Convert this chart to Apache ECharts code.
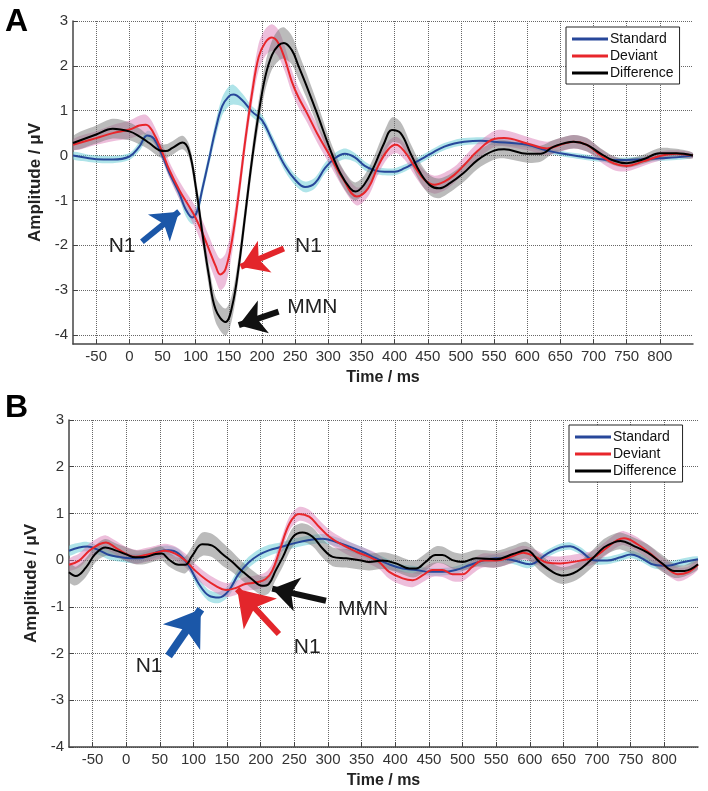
<!DOCTYPE html>
<html>
<head>
<meta charset="utf-8">
<script src="https://cdn.jsdelivr.net/npm/echarts@6.0.0/dist/echarts.min.js"></script>
<style>
    html, body { margin: 0; padding: 0; background: #fff; }
    #main { width: 708px; height: 791px; }
</style>
</head>
<body>
<div id="main"></div>
<script>
// [time ms, mean uV, half width of shaded band]
var stdA = [[-85, 0.0, 0.08], [-65, -0.05, 0.08], [-50, -0.08, 0.08], [-25, -0.09, 0.08], [0, -0.02, 0.08], [15, 0.2, 0.1], [27, 0.45, 0.1], [37, 0.38, 0.1], [50, -0.01, 0.1], [60, -0.38, 0.1], [75, -0.83, 0.12], [85, -1.2, 0.15], [95, -1.38, 0.15], [102, -1.25, 0.15], [110, -0.75, 0.15], [120, -0.09, 0.15], [130, 0.58, 0.18], [140, 1.1, 0.2], [150, 1.32, 0.22], [157, 1.36, 0.22], [170, 1.24, 0.15], [185, 0.98, 0.12], [200, 0.79, 0.12], [215, 0.35, 0.12], [235, -0.24, 0.12], [250, -0.54, 0.12], [265, -0.7, 0.12], [280, -0.61, 0.12], [295, -0.28, 0.12], [310, -0.06, 0.12], [325, 0.04, 0.12], [340, -0.04, 0.1], [355, -0.23, 0.1], [370, -0.33, 0.08], [385, -0.36, 0.08], [400, -0.36, 0.08], [415, -0.28, 0.08], [430, -0.16, 0.08], [445, -0.04, 0.08], [460, 0.09, 0.08], [475, 0.2, 0.08], [490, 0.27, 0.08], [505, 0.31, 0.08], [530, 0.33, 0.08], [550, 0.31, 0.08], [600, 0.24, 0.06], [630, 0.11, 0.06], [650, 0.05, 0.06], [675, -0.01, 0.06], [700, -0.06, 0.06], [725, -0.1, 0.06], [750, -0.1, 0.06], [775, -0.08, 0.06], [800, -0.06, 0.06], [825, -0.04, 0.06], [850, 0.0, 0.05]];
var devA = [[-85, 0.24, 0.12], [-50, 0.39, 0.15], [-25, 0.5, 0.18], [0, 0.58, 0.2], [15, 0.67, 0.22], [25, 0.69, 0.22], [35, 0.54, 0.2], [50, 0.06, 0.18], [60, -0.31, 0.18], [75, -0.76, 0.2], [90, -1.13, 0.22], [100, -1.39, 0.25], [110, -1.72, 0.28], [120, -2.09, 0.3], [130, -2.46, 0.32], [137, -2.65, 0.35], [145, -2.53, 0.35], [155, -1.87, 0.3], [165, -0.83, 0.25], [175, 0.36, 0.25], [185, 1.39, 0.25], [195, 2.2, 0.3], [205, 2.52, 0.3], [215, 2.63, 0.3], [225, 2.5, 0.3], [235, 2.13, 0.28], [245, 1.65, 0.25], [255, 1.3, 0.22], [268, 0.94, 0.2], [283, 0.5, 0.2], [303, -0.02, 0.2], [323, -0.54, 0.2], [343, -0.91, 0.2], [360, -0.73, 0.18], [375, -0.24, 0.18], [390, 0.13, 0.18], [402, 0.24, 0.18], [415, 0.09, 0.18], [430, -0.24, 0.2], [445, -0.54, 0.2], [460, -0.65, 0.2], [475, -0.58, 0.2], [490, -0.43, 0.18], [505, -0.21, 0.18], [525, 0.1, 0.18], [550, 0.37, 0.18], [565, 0.39, 0.18], [600, 0.27, 0.15], [630, 0.16, 0.15], [650, 0.24, 0.15], [670, 0.31, 0.15], [690, 0.24, 0.15], [710, 0.01, 0.15], [730, -0.17, 0.15], [750, -0.23, 0.12], [775, -0.13, 0.1], [800, -0.01, 0.1], [825, 0.04, 0.08], [850, 0.0, 0.06]];
var difA = [[-85, 0.28, 0.15], [-50, 0.47, 0.2], [-25, 0.6, 0.22], [0, 0.54, 0.2], [15, 0.43, 0.18], [30, 0.28, 0.15], [45, 0.12, 0.15], [55, 0.1, 0.15], [65, 0.17, 0.15], [80, 0.29, 0.15], [90, 0.1, 0.15], [100, -0.68, 0.2], [110, -1.72, 0.22], [120, -2.68, 0.25], [130, -3.43, 0.28], [145, -3.71, 0.3], [155, -3.36, 0.28], [165, -2.47, 0.25], [175, -1.28, 0.25], [185, -0.09, 0.25], [195, 0.94, 0.28], [205, 1.76, 0.3], [215, 2.24, 0.32], [225, 2.46, 0.35], [233, 2.51, 0.35], [245, 2.35, 0.32], [255, 2.0, 0.3], [266, 1.6, 0.28], [283, 0.94, 0.25], [303, 0.13, 0.2], [318, -0.39, 0.2], [333, -0.73, 0.2], [341, -0.8, 0.2], [354, -0.65, 0.2], [369, -0.24, 0.22], [384, 0.27, 0.25], [396, 0.57, 0.28], [409, 0.5, 0.25], [424, 0.05, 0.22], [439, -0.39, 0.22], [454, -0.67, 0.22], [467, -0.73, 0.22], [484, -0.61, 0.2], [504, -0.39, 0.2], [525, -0.1, 0.2], [550, 0.11, 0.2], [565, 0.14, 0.2], [600, 0.04, 0.2], [620, 0.04, 0.18], [640, 0.2, 0.15], [670, 0.31, 0.15], [690, 0.24, 0.15], [710, 0.05, 0.12], [730, -0.11, 0.1], [750, -0.17, 0.1], [775, -0.08, 0.1], [800, 0.05, 0.12], [825, 0.05, 0.1], [850, 0.0, 0.06]];

var stdB = [[-85, 0.2, 0.1], [-70, 0.27, 0.1], [-58, 0.29, 0.1], [-40, 0.21, 0.1], [-25, 0.11, 0.1], [-10, 0.07, 0.1], [5, 0.04, 0.1], [20, 0.04, 0.1], [35, 0.11, 0.1], [50, 0.19, 0.1], [63, 0.21, 0.1], [78, 0.14, 0.1], [93, -0.12, 0.1], [108, -0.51, 0.12], [123, -0.76, 0.12], [138, -0.8, 0.12], [152, -0.66, 0.12], [167, -0.3, 0.12], [182, -0.05, 0.12], [197, 0.11, 0.12], [212, 0.21, 0.12], [230, 0.28, 0.1], [252, 0.37, 0.1], [272, 0.43, 0.1], [292, 0.46, 0.1], [312, 0.39, 0.1], [332, 0.29, 0.1], [351, 0.18, 0.1], [371, 0.04, 0.1], [391, -0.09, 0.1], [411, -0.18, 0.08], [431, -0.21, 0.08], [450, -0.25, 0.08], [470, -0.25, 0.08], [490, -0.21, 0.08], [510, -0.11, 0.08], [530, -0.01, 0.08], [550, 0.04, 0.08], [575, 0.0, 0.08], [600, -0.09, 0.08], [625, 0.13, 0.08], [645, 0.27, 0.08], [660, 0.3, 0.08], [675, 0.2, 0.08], [695, 0.0, 0.08], [715, -0.01, 0.08], [735, 0.06, 0.08], [750, 0.12, 0.08], [765, 0.05, 0.08], [785, -0.1, 0.08], [805, -0.12, 0.08], [825, -0.05, 0.08], [850, 0.02, 0.06]];
var devB = [[-85, -0.1, 0.12], [-70, -0.01, 0.15], [-55, 0.2, 0.15], [-40, 0.34, 0.15], [-30, 0.38, 0.15], [-16, 0.27, 0.15], [-1, 0.14, 0.15], [14, 0.07, 0.15], [29, 0.11, 0.15], [44, 0.16, 0.15], [58, 0.2, 0.15], [73, 0.14, 0.15], [88, -0.01, 0.15], [103, -0.23, 0.15], [118, -0.41, 0.15], [133, -0.55, 0.15], [148, -0.64, 0.15], [162, -0.6, 0.15], [177, -0.51, 0.15], [192, -0.48, 0.15], [207, -0.41, 0.15], [217, -0.23, 0.15], [228, 0.2, 0.15], [243, 0.79, 0.15], [257, 0.99, 0.15], [272, 0.93, 0.15], [287, 0.71, 0.15], [302, 0.5, 0.15], [322, 0.32, 0.15], [342, 0.18, 0.15], [361, 0.07, 0.15], [376, -0.04, 0.15], [391, -0.25, 0.15], [411, -0.39, 0.15], [426, -0.43, 0.15], [441, -0.32, 0.15], [455, -0.21, 0.15], [470, -0.21, 0.15], [485, -0.3, 0.15], [500, -0.3, 0.15], [515, -0.14, 0.15], [530, -0.01, 0.15], [550, -0.01, 0.15], [575, 0.09, 0.15], [590, 0.16, 0.15], [610, 0.06, 0.15], [625, -0.05, 0.15], [645, -0.07, 0.15], [675, -0.01, 0.15], [695, 0.06, 0.15], [715, 0.27, 0.15], [730, 0.43, 0.15], [740, 0.47, 0.15], [760, 0.34, 0.15], [780, 0.13, 0.15], [800, -0.12, 0.15], [820, -0.3, 0.15], [835, -0.26, 0.12], [850, -0.1, 0.1]];
var difB = [[-85, -0.26, 0.2], [-75, -0.34, 0.2], [-60, -0.16, 0.2], [-46, 0.13, 0.18], [-31, 0.27, 0.18], [-16, 0.21, 0.15], [-1, 0.13, 0.15], [14, 0.06, 0.15], [29, 0.07, 0.15], [44, 0.13, 0.15], [53, 0.14, 0.15], [63, 0.02, 0.15], [78, -0.1, 0.15], [88, -0.1, 0.18], [98, 0.09, 0.2], [113, 0.34, 0.25], [128, 0.31, 0.25], [143, 0.13, 0.25], [157, -0.03, 0.22], [172, -0.23, 0.2], [187, -0.41, 0.2], [202, -0.55, 0.2], [212, -0.51, 0.2], [222, -0.23, 0.2], [233, 0.07, 0.2], [248, 0.5, 0.2], [262, 0.59, 0.2], [277, 0.5, 0.2], [292, 0.25, 0.2], [307, 0.07, 0.2], [327, 0.04, 0.2], [347, 0.0, 0.2], [361, -0.04, 0.18], [381, -0.01, 0.18], [401, -0.07, 0.18], [421, -0.18, 0.18], [431, -0.18, 0.18], [445, -0.04, 0.18], [460, 0.11, 0.18], [470, 0.11, 0.18], [485, 0.0, 0.18], [500, -0.04, 0.18], [520, 0.04, 0.18], [550, 0.02, 0.18], [575, 0.13, 0.18], [595, 0.21, 0.18], [615, -0.05, 0.18], [635, -0.26, 0.18], [650, -0.33, 0.18], [670, -0.24, 0.18], [690, -0.01, 0.18], [710, 0.27, 0.18], [725, 0.38, 0.18], [735, 0.41, 0.18], [755, 0.3, 0.18], [775, 0.16, 0.18], [795, -0.05, 0.18], [815, -0.23, 0.15], [830, -0.23, 0.12], [850, -0.09, 0.1]];

var xTicks = [-50, 0, 50, 100, 150, 200, 250, 300, 350, 400, 450, 500, 550, 600, 650, 700, 750, 800];
var yTicks = [-4, -3, -2, -1, 0, 1, 2, 3];
var names = ['Standard', 'Deviant', 'Difference'];

// arrows: [tail time, tail uV, head time, head uV]
var arrowsA = { Standard: [19, -1.92, 75, -1.25], Deviant: [233, -2.07, 168, -2.48], Difference: [225, -3.48, 165, -3.78] };
var arrowsB = { Standard: [63, -2.05, 111, -1.05], Deviant: [227, -1.58, 165, -0.62], Difference: [297, -0.87, 217, -0.61] };
// labels: [time, uV, text]
var labelsA = [[-11, -2.03, 'N1'], [270, -2.03, 'N1'], [276, -3.37, 'MMN']];
var labelsB = [[34, -2.26, 'N1'], [269, -1.87, 'N1'], [352, -1.05, 'MMN']];

var lineColors = { Standard: '#27479a', Deviant: '#e8262b', Difference: '#000000' };
var bandColors = { Standard: 'rgba(110, 205, 215, 0.55)', Deviant: 'rgba(214, 110, 175, 0.45)', Difference: 'rgba(120, 120, 120, 0.5)' };
var arrowColors = { Standard: '#1b57a8', Deviant: '#e3262b', Difference: '#111111' };
var font = 'Liberation Sans, Arial, sans-serif';

function bandSeries(name, pts, gi) {
    return {
        type: 'custom',
        name: name + ' band',
        xAxisIndex: gi,
        yAxisIndex: gi,
        silent: true,
        clip: true,
        z: 1,
        data: [[pts[0][0], pts[0][1]]],
        renderItem: function (params, api) {
            var up = pts.map(function (p) { return api.coord([p[0], p[1] + p[2]]); });
            var lo = pts.map(function (p) { return api.coord([p[0], p[1] - p[2]]); }).reverse();
            return {
                type: 'polygon',
                shape: { points: up.concat(lo), smooth: 0.3 },
                style: { fill: bandColors[name] }
            };
        }
    };
}

function lineSeries(name, pts, gi, arrows, labels, big) {
    var a = arrows[name];
    var s = {
        type: 'line',
        name: name,
        xAxisIndex: gi,
        yAxisIndex: gi,
        data: pts.map(function (p) { return [p[0], p[1]]; }),
        smooth: 0.4,
        showSymbol: false,
        color: lineColors[name],
        lineStyle: { width: 2, color: lineColors[name] },
        z: name === 'Difference' ? 4 : 3,
        markLine: {
            silent: true,
            symbol: ['none', 'arrow'],
            symbolSize: big && name !== 'Difference' ? 34 : 26,
            label: { show: false },
            lineStyle: { type: 'solid', width: big && name === 'Standard' ? 8 : 6, color: arrowColors[name] },
            data: [[{ coord: [a[0], a[1]] }, { coord: [a[2], a[3]] }]]
        }
    };
    if (name === 'Difference') {
        s.markPoint = {
            silent: true,
            symbol: 'rect',
            symbolSize: 0,
            label: { show: true, position: 'inside', color: '#222', fontSize: 21, fontFamily: font },
            data: labels.map(function (l) { return { coord: [l[0], l[1]], value: l[2], label: { formatter: l[2] } }; })
        };
    }
    return s;
}

function xAxisFor(gi) {
    return {
        type: 'value',
        gridIndex: gi,
        min: -85,
        max: 850,
        name: 'Time / ms',
        nameLocation: 'middle',
        nameGap: 26,
        nameTextStyle: { fontFamily: font, fontSize: 16, fontWeight: 'bold', color: '#222' },
        axisLine: { onZero: false, lineStyle: { color: '#444', width: 1.5 } },
        axisTick: { inside: true, length: 5, customValues: xTicks, lineStyle: { color: '#444' } },
        axisLabel: { customValues: xTicks, margin: 5, fontFamily: font, fontSize: 15, color: '#333' },
        splitLine: { show: true, lineStyle: { type: 'dotted', color: '#666', width: 1 } }
    };
}

function yAxisFor(gi, min, gap) {
    return {
        type: 'value',
        gridIndex: gi,
        min: min,
        max: 3,
        name: 'Amplitude / \u03bcV',
        nameLocation: 'middle',
        nameGap: gap,
        nameTextStyle: { fontFamily: font, fontSize: 17, fontWeight: 'bold', color: '#222' },
        axisLine: { show: true, onZero: false, lineStyle: { color: '#444', width: 1.5 } },
        axisTick: { show: true, inside: true, length: 5, customValues: yTicks, lineStyle: { color: '#444' } },
        axisLabel: { customValues: yTicks, margin: 5, fontFamily: font, fontSize: 15, color: '#333' },
        splitLine: { show: true, lineStyle: { type: 'dotted', color: '#666', width: 1 } }
    };
}

function legendFor(left, top) {
    return {
        left: left,
        top: top,
        orient: 'vertical',
        data: names,
        icon: 'rect',
        itemWidth: 36,
        itemHeight: 3,
        itemGap: 3,
        padding: [5, 6, 4, 6],
        backgroundColor: '#fff',
        borderColor: '#222',
        borderWidth: 1,
        borderRadius: 0,
        selectedMode: false,
        textStyle: { fontFamily: font, fontSize: 14, color: '#111', padding: [0, 0, 0, -3] }
    };
}

var series = [];
var sets = [[stdA, devA, difA], [stdB, devB, difB]];
sets.forEach(function (set, gi) {
    set.forEach(function (pts, k) { series.push(bandSeries(names[k], pts, gi)); });
});
sets.forEach(function (set, gi) {
    set.forEach(function (pts, k) {
        series.push(lineSeries(names[k], pts, gi, gi === 0 ? arrowsA : arrowsB, gi === 0 ? labelsA : labelsB, gi === 1));
    });
});

var myChart = echarts.init(document.getElementById('main'), null, { renderer: 'canvas' });
myChart.setOption({
    backgroundColor: '#fff',
    animation: false,
    textStyle: { fontFamily: font },
    graphic: [
        { type: 'text', left: 5, top: 6, style: { text: 'A', fontSize: 32, fontWeight: 'bold', fontFamily: font, fill: '#000' } },
        { type: 'text', left: 5, top: 392, style: { text: 'B', fontSize: 32, fontWeight: 'bold', fontFamily: font, fill: '#000' } }
    ],
    legend: [legendFor(566, 27), legendFor(569, 425)],
    grid: [
        { left: 73, top: 21, width: 620, height: 323 },
        { left: 69, top: 420, width: 629, height: 327 }
    ],
    xAxis: [xAxisFor(0), xAxisFor(1)],
    yAxis: [yAxisFor(0, -4.2, 24), yAxisFor(1, -4, 22)],
    series: series
});
</script>
</body>
</html>
